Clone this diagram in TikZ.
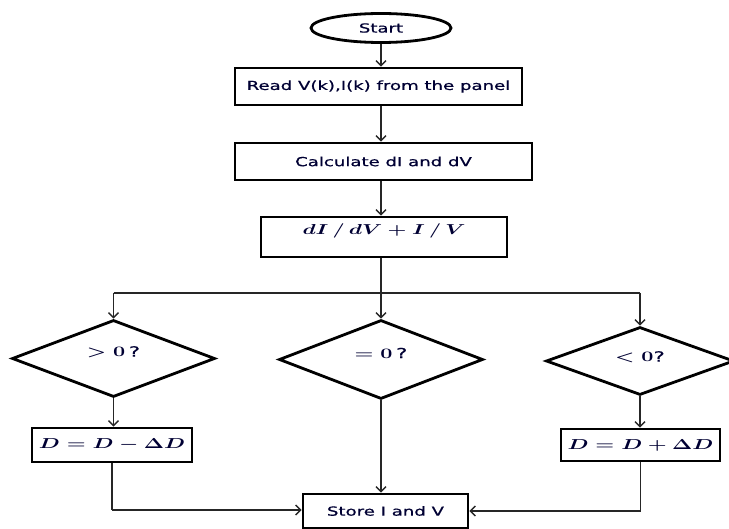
\documentclass[tikz,border=0pt]{standalone}
\usepackage{fontspec}
\usepackage{graphicx}
\setmainfont[FakeBold=0.6]{DejaVu Sans}
\usetikzlibrary{shapes.geometric,arrows.meta}
\newcommand{\hstr}[1]{\scalebox{1.45}[1]{#1}}
\newcommand{\mstr}[1]{\scalebox{1.5}[1]{\boldmath#1}}
\begin{document}
\begin{tikzpicture}[x=1pt,y=-1pt,
  every node/.style={font=\fontsize{12.5}{14}\selectfont, text=black!80!blue},
  mathtxt/.style={font=\fontsize{14}{16}\selectfont},
  procbox/.style={draw=black, line width=2.8pt, rectangle, inner sep=0pt},
  decbox/.style={draw=black, line width=2.8pt, diamond, inner sep=0pt},
  termbox/.style={draw=black, line width=2.8pt, ellipse, inner sep=0pt, minimum width=140pt, minimum height=29pt},
  conn/.style={draw=black!85, line width=1.5pt},
  arr/.style={conn, -{Straight Barb[length=5pt,width=10pt,line width=1.4pt]}}
]
\useasboundingbox (0,0) rectangle (729,529);
\fill[white] (0,0) rectangle (729,529);

\node[termbox] (start) at (381,28) {\hstr{Start}};
\node[procbox, minimum width=287pt, minimum height=37pt] (read) at (378.5,86.5) {\hstr{Read V(k),I(k) from the panel}};
\node[procbox, minimum width=297pt, minimum height=37pt] (calc) at (383.5,161.5) {\hstr{Calculate dI and dV}};
\node[procbox, minimum width=246pt, minimum height=40pt] (eval) at (384,237) {};
\node[mathtxt] (evaltext) at (384,231) {\mstr{$dI\,/\,dV+I\,/\,V$}};

\node[decbox, minimum width=203pt, minimum height=77pt] (gt) at (113.5,358.5) {};
\node[mathtxt] (gttext) at (113.5,352) {\mstr{$>0$\,?}};
\node[decbox, minimum width=204pt, minimum height=79pt] (eq) at (381,359.5) {};
\node[mathtxt] (eqtext) at (381,353) {\mstr{$=0$\,?}};
\node[decbox, minimum width=188pt, minimum height=68pt] (lt) at (640,361) {};
\node[mathtxt] (lttext) at (640,357) {\mstr{$<0$?}};

\node[procbox, minimum width=160pt, minimum height=34pt, mathtxt] (dec) at (112,445) {\mstr{$D=D-\Delta D$}};
\node[procbox, minimum width=159pt, minimum height=32pt, mathtxt] (inc) at (640.5,445) {\mstr{$D=D+\Delta D$}};
\node[procbox, minimum width=165pt, minimum height=34pt] (store) at (385.5,511) {\hstr{Store I and V}};

\coordinate (split) at (381,293);
\coordinate (sl) at (113.5,293);
\coordinate (sr) at (640,293);
\coordinate (jl) at (112,510);
\coordinate (jr) at (640.5,511);

\draw[arr] (start.south) -- (start.south |- read.north);
\draw[arr] (read.south -| start.south) -- (start.south |- calc.north);
\draw[arr] (calc.south -| start.south) -- (start.south |- eval.north);
\draw[conn] (eval.south -| start.south) -- (split);
\draw[conn] (sl) -- (sr);
\draw[arr] (sl) -- (gt.north);
\draw[arr] (split) -- (eq.north);
\draw[arr] (sr) -- (lt.north);
\draw[arr] (gt.south) -- (gt.south |- dec.north);
\draw[arr] (lt.south) -- (lt.south |- inc.north);
\draw[arr] (eq.south) -- (eq.south |- store.north);
\draw[conn] (dec.south) -- (jl);
\draw[arr] (jl) -- (jl -| store.west);
\draw[conn] (inc.south) -- (jr);
\draw[arr] (jr) -- (jr -| store.east);
\end{tikzpicture}
\end{document}
